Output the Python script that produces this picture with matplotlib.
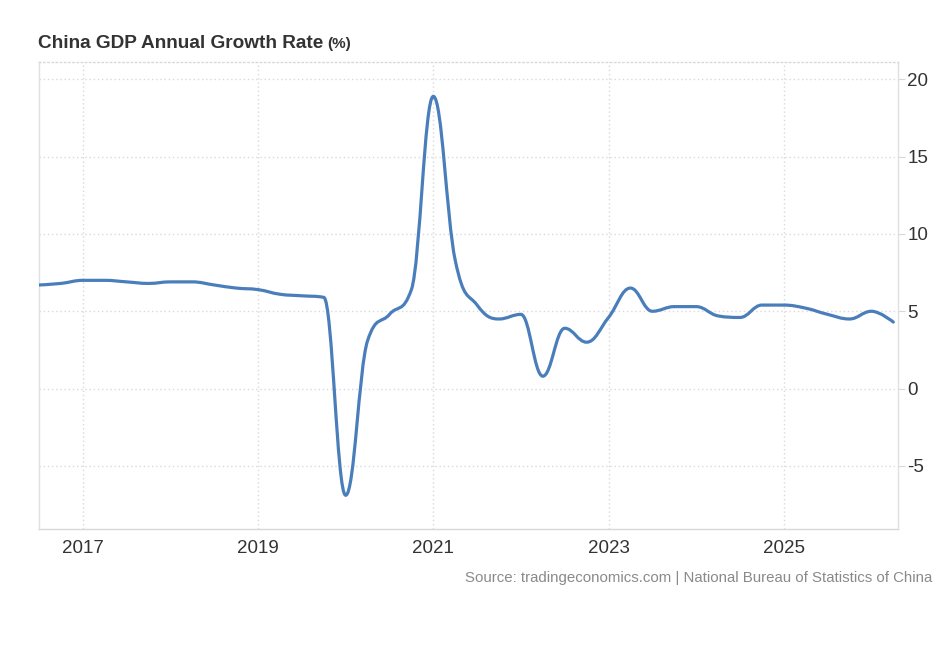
import matplotlib
matplotlib.use("Agg")
import matplotlib.pyplot as plt
from matplotlib.path import Path
from matplotlib.patches import PathPatch
import numpy as np

plt.rcParams['font.family'] = ['Liberation Sans', 'DejaVu Sans']

# Quarterly data, dated at quarter start (fractional years)
start_year = 2016.5
values = [6.7, 6.8, 7.0, 7.0, 6.9, 6.8, 6.9, 6.9, 6.7, 6.5,
          6.4, 6.1, 6.0, 5.9, -6.9, 3.1, 4.8, 6.4, 18.9, 8.3,
          5.4, 4.5, 4.8, 0.8, 3.9, 3.0, 4.6, 6.5, 5.0, 5.3,
          5.3, 4.7, 4.6, 5.4, 5.4, 5.2, 4.8, 4.5, 5.0, 4.3]
dates = [start_year + 0.25 * i for i in range(len(values))]
y_ticks = [-5, 0, 5, 10, 15, 20]
x_ticks = [2017, 2019, 2021, 2023, 2025]
x_labels = ["2017", "2019", "2021", "2023", "2025"]
title = "China GDP Annual Growth Rate"
unit = "(%)"
source = "Source: tradingeconomics.com | National Bureau of Statistics of China"


def highcharts_spline(xs, ys, smoothing=1.5):
    n = len(xs)
    denom = smoothing + 1
    right = [None] * n
    left = [None] * n
    for i in range(1, n - 1):
        px, py = xs[i], ys[i]
        lx, ly = xs[i - 1], ys[i - 1]
        nx, ny = xs[i + 1], ys[i + 1]
        lcx = (smoothing * px + lx) / denom
        lcy = (smoothing * py + ly) / denom
        rcx = (smoothing * px + nx) / denom
        rcy = (smoothing * py + ny) / denom
        corr = 0.0
        if rcx != lcx:
            corr = (rcy - lcy) * (rcx - px) / (rcx - lcx) + py - rcy
        lcy += corr
        rcy += corr
        if lcy > ly and lcy > py:
            lcy = max(ly, py)
            rcy = 2 * py - lcy
        elif lcy < ly and lcy < py:
            lcy = min(ly, py)
            rcy = 2 * py - lcy
        if rcy > ny and rcy > py:
            rcy = max(ny, py)
            lcy = 2 * py - rcy
        elif rcy < ny and rcy < py:
            rcy = min(ny, py)
            lcy = 2 * py - rcy
        left[i] = (lcx, lcy)
        right[i] = (rcx, rcy)
    verts = [(xs[0], ys[0])]
    codes = [Path.MOVETO]
    for i in range(1, n):
        c1 = right[i - 1] if right[i - 1] is not None else (xs[i - 1], ys[i - 1])
        c2 = left[i] if left[i] is not None else (xs[i], ys[i])
        verts += [c1, c2, (xs[i], ys[i])]
        codes += [Path.CURVE4] * 3
    return Path(verts, codes)


W, H = 948, 647
fig = plt.figure(figsize=(W / 100, H / 100), dpi=100)
fig.patch.set_facecolor('white')
l, r, t, b = 39, 897.7, 62.3, 529.3
ax = fig.add_axes([l / W, 1 - b / H, (r - l) / W, (b - t) / H])

ax.set_xlim(2016.5, 2026.3)
ax.set_ylim(-9.1, 21.1)

grid_col = '#d9d9d9'
for yv in y_ticks:
    ax.axhline(yv, color=grid_col, lw=1.0, ls=(0, (1, 2)), zorder=1)
for xv in x_ticks:
    ax.axvline(xv, color=grid_col, lw=1.0, ls=(0, (1, 2)), zorder=1)

path = highcharts_spline(dates, values)
patch = PathPatch(path, facecolor='none', edgecolor='#4a7ebb', lw=2.3,
                  capstyle='round', joinstyle='round', zorder=3)
ax.add_patch(patch)

for side in ['left', 'right', 'bottom']:
    ax.spines[side].set_color('#e0e0e0')
    ax.spines[side].set_linewidth(1.0)
ax.spines['bottom'].set_color('#d8d8d8')
ax.spines['top'].set_color(grid_col)
ax.spines['top'].set_linestyle((0, (1, 2)))
ax.spines['top'].set_linewidth(1.0)

ax.yaxis.tick_right()
ax.set_yticks(y_ticks)
ax.set_yticklabels([str(v) for v in y_ticks])
ax.tick_params(axis='y', which='both', length=5, color=grid_col, pad=2,
               labelsize=13.5, labelcolor='#333333', left=False)
ax.set_xticks(x_ticks)
ax.set_xticklabels(x_labels)
ax.tick_params(axis='x', which='both', length=0, pad=8,
               labelsize=13.5, labelcolor='#333333')

fig.text(38 / W, 1 - 43 / H, title, fontsize=13.7, fontweight='bold',
         color='#333333', ha='left', va='center')
# unit text placed right after the title
fig.canvas.draw()
tt = fig.texts[0]
bb = tt.get_window_extent()
fig.text((bb.x1 + 4) / W, 1 - 44 / H, unit, fontsize=11, fontweight='bold',
         color='#333333', ha='left', va='center')

fig.text(932 / W, 1 - 578 / H, source, fontsize=10.8, color='#8a8a8a',
         ha='right', va='center')

fig.savefig('out.png', dpi=100, facecolor='white')
